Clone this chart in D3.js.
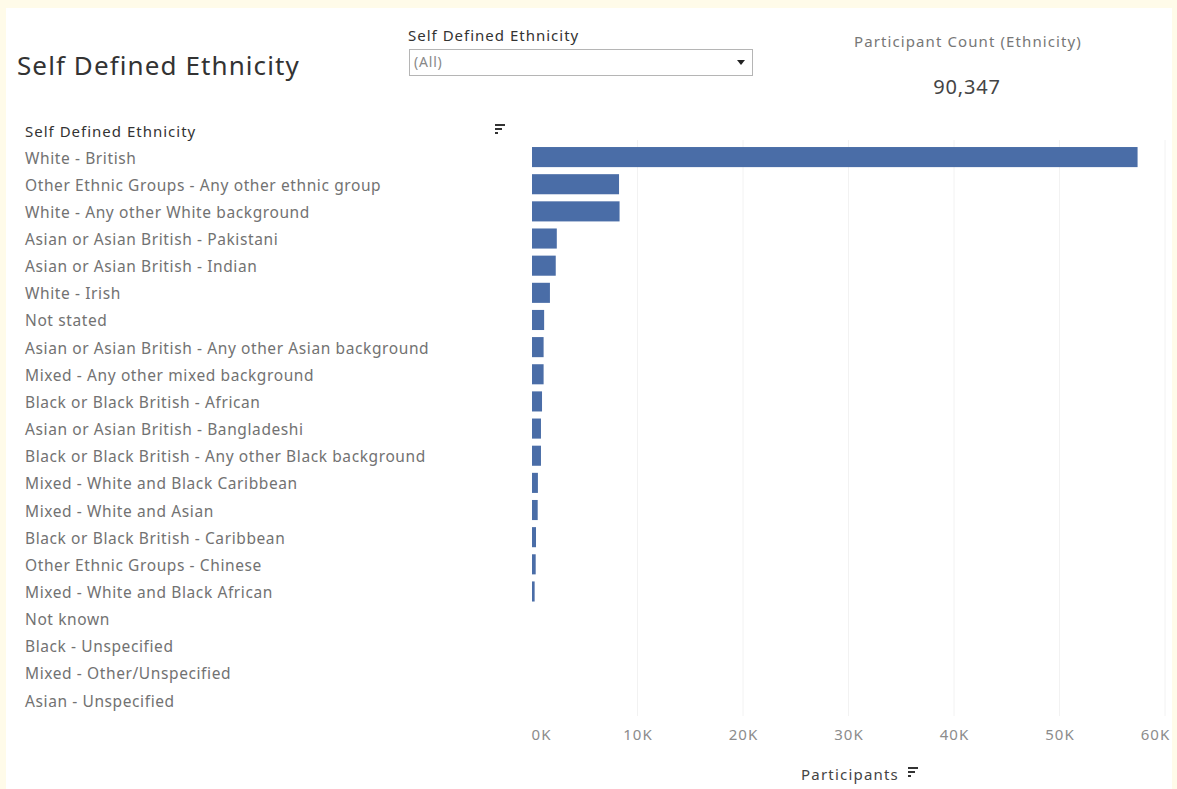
<!DOCTYPE html>
<html>
<head>
<meta charset="utf-8">
<script src="https://cdn.jsdelivr.net/npm/d3@7"></script>
<style>
  body { margin: 0; background: #fffbe9; }
  svg { display: block; font-family: "Noto Sans", sans-serif; }
</style>
</head>
<body>
<svg id="chart" width="1177" height="789"></svg>
<script>
// categories, top to bottom as shown
var ethnicities = ['White - British', 'Other Ethnic Groups - Any other ethnic group',
  'White - Any other White background', 'Asian or Asian British - Pakistani',
  'Asian or Asian British - Indian', 'White - Irish', 'Not stated',
  'Asian or Asian British - Any other Asian background', 'Mixed - Any other mixed background',
  'Black or Black British - African', 'Asian or Asian British - Bangladeshi',
  'Black or Black British - Any other Black background', 'Mixed - White and Black Caribbean',
  'Mixed - White and Asian', 'Black or Black British - Caribbean',
  'Other Ethnic Groups - Chinese', 'Mixed - White and Black African',
  'Not known', 'Black - Unspecified', 'Mixed - Other/Unspecified', 'Asian - Unspecified']

// participants per category
var participants = [57400, 8250, 8300, 2350, 2250, 1700, 1150, 1100, 1100,
  950, 850, 850, 560, 540, 380, 350, 250, 0, 0, 0, 0]

var xTicks = [0, 10000, 20000, 30000, 40000, 50000, 60000]
var totalCount = '90,347'

var svg = d3.select('#chart')

// white dashboard panel
svg.append('rect')
  .attr('x', 6).attr('y', 8)
  .attr('width', 1166).attr('height', 781)
  .attr('fill', '#ffffff')

// title
svg.append('text')
  .attr('x', 17).attr('y', 75)
  .attr('font-size', 26)
  .attr('letter-spacing', 1.1)
  .attr('fill', '#333')
  .text('Self Defined Ethnicity')

// filter control
svg.append('text')
  .attr('x', 408).attr('y', 41)
  .attr('font-size', 15)
  .attr('letter-spacing', 1)
  .attr('fill', '#333')
  .text('Self Defined Ethnicity')
svg.append('rect')
  .attr('x', 409.5).attr('y', 49.5)
  .attr('width', 343).attr('height', 26)
  .attr('fill', '#fff')
  .attr('stroke', '#b5b5b5')
svg.append('text')
  .attr('x', 414).attr('y', 67)
  .attr('font-size', 14)
  .attr('letter-spacing', 0.8)
  .attr('fill', '#888')
  .text('(All)')
svg.append('path')
  .attr('d', 'M737,60 L745,60 L741,65 Z')
  .attr('fill', '#222')

// participant count KPI
svg.append('text')
  .attr('x', 854).attr('y', 47)
  .attr('font-size', 15)
  .attr('letter-spacing', 1.1)
  .attr('fill', '#777')
  .text('Participant Count (Ethnicity)')
svg.append('text')
  .attr('x', 967).attr('y', 94)
  .attr('text-anchor', 'middle')
  .attr('font-size', 20)
  .attr('letter-spacing', 0.8)
  .attr('fill', '#444')
  .text(totalCount)

// scales
var xScale = d3.scaleLinear()
  .domain([0, 60000])
  .range([532, 1165])

var yScale = d3.scaleBand()
  .domain(ethnicities)
  .range([143.5, 143.5 + ethnicities.length * 27.15])
  .paddingInner(0.26)
  .paddingOuter(0.13)

// faint gridlines
svg.append('g')
  .selectAll('line')
  .data(xTicks.slice(1))
  .enter().append('line')
  .attr('x1', function(d){ return xScale(d) })
  .attr('x2', function(d){ return xScale(d) })
  .attr('y1', 140).attr('y2', 716)
  .attr('stroke', '#f2f2f2')
  .attr('stroke-width', 1)

// row header
svg.append('text')
  .attr('x', 25).attr('y', 137)
  .attr('font-size', 15)
  .attr('letter-spacing', 1)
  .attr('fill', '#333')
  .text('Self Defined Ethnicity')

// sort icon helper
function sortIcon(x, y) {
  var g = svg.append('g').attr('transform', 'translate(' + x + ',' + y + ')')
  g.append('rect').attr('x', 0).attr('y', 0).attr('width', 10).attr('height', 2).attr('fill', '#333')
  g.append('rect').attr('x', 0).attr('y', 4).attr('width', 7).attr('height', 2).attr('fill', '#333')
  g.append('rect').attr('x', 0).attr('y', 8).attr('width', 3).attr('height', 2).attr('fill', '#333')
}
sortIcon(495, 124)

// category labels
var yAxis = d3.axisRight(yScale).tickSize(0).tickPadding(0)
var yAx = svg.append('g')
  .attr('transform', 'translate(25,0)')
  .call(yAxis)
yAx.select('.domain').remove()
yAx.selectAll('text')
  .attr('font-size', 15.5)
  .attr('letter-spacing', 0.6)
  .attr('font-family', '"Noto Sans", sans-serif')
  .attr('fill', '#727272')
  .attr('dy', '0.42em')

// bars
svg.append('g')
  .selectAll('rect')
  .data(participants)
  .enter().append('rect')
  .attr('x', xScale(0))
  .attr('y', function(d, i){ return yScale(ethnicities[i]) })
  .attr('width', function(d){ return Math.max(0, xScale(d) - xScale(0)) })
  .attr('height', yScale.bandwidth())
  .attr('fill', '#4a6da7')

// x axis
var xAxis = d3.axisBottom(xScale)
  .tickValues(xTicks)
  .tickFormat(function(d){ return (d / 1000) + 'K' })
  .tickSize(0)
  .tickPadding(0)
var xAx = svg.append('g')
  .attr('transform', 'translate(0,734)')
  .call(xAxis)
xAx.select('.domain').remove()
xAx.selectAll('text')
  .attr('font-size', 15)
  .attr('letter-spacing', 1)
  .attr('font-family', '"Noto Sans", sans-serif')
  .attr('fill', '#8c8c8c')
  .attr('dy', '0.4em')
  .attr('dx', function(d){ return d === 0 ? 9 : (d === 60000 ? -10 : 0) })

// axis title
svg.append('text')
  .attr('x', 850).attr('y', 780)
  .attr('text-anchor', 'middle')
  .attr('font-size', 15)
  .attr('letter-spacing', 1.2)
  .attr('fill', '#444')
  .text('Participants')
sortIcon(908, 767)
</script>
</body>
</html>
